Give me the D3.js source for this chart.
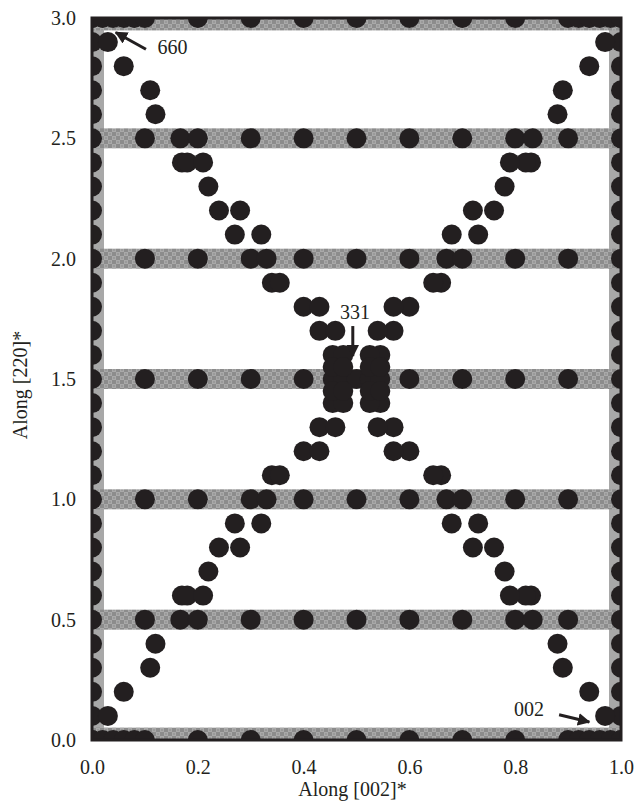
<!DOCTYPE html>
<html>
<head>
<meta charset="utf-8">
<script src="https://cdn.jsdelivr.net/npm/d3@7"></script>
<style>
  html, body { margin: 0; padding: 0; background: #fff; }
  svg { display: block; }
</style>
</head>
<body>
<svg id="chart" width="634" height="812"></svg>
<script>
// ---------- data ----------
const xTicks = [0.0, 0.2, 0.4, 0.6, 0.8, 1.0];
const yTicks = [0.0, 0.5, 1.0, 1.5, 2.0, 2.5, 3.0];
const bandYs = [0.01, 0.5, 1.0, 1.5, 2.0, 2.5, 2.99];   // horizontal checkered bands
const bandXs = [0, 1];                                   // vertical grey bands

// points along the vertical edges (x = 0 and x = 1)
const edgeYs = [0.0, 0.1, 0.2, 0.3, 0.4, 0.5, 0.6, 0.7, 0.8, 0.9, 1.0,
                1.1, 1.2, 1.3, 1.4, 1.5, 1.6, 1.7, 1.8, 1.9, 2.0,
                2.1, 2.2, 2.3, 2.4, 2.5, 2.6, 2.7, 2.8, 2.9, 3.0];
// points along the horizontal edges (y = 0 and y = 3)
const rimXs = [0, 0.02, 0.04, 0.06, 0.08, 0.1, 0.2, 0.3, 0.4, 0.5, 0.6, 0.7, 0.8,
               0.9, 0.92, 0.94, 0.96, 0.98, 1.0];
// points on inner bands
const band05Xs = [0.1, 0.167, 0.2, 0.3, 0.4, 0.5, 0.6, 0.7, 0.8, 0.833, 0.9];
const band10Xs = [0.1, 0.2, 0.3, 0.33, 0.4, 0.5, 0.6, 0.67, 0.7, 0.8, 0.9];
const band15Xs = [0.1, 0.2, 0.3, 0.4, 0.455, 0.475, 0.5, 0.525, 0.545, 0.6, 0.7, 0.8, 0.9];
const band20Xs = [0.1, 0.2, 0.3, 0.33, 0.4, 0.5, 0.6, 0.67, 0.7, 0.8, 0.9];
const band25Xs = [0.1, 0.167, 0.2, 0.3, 0.4, 0.5, 0.6, 0.7, 0.8, 0.833, 0.9];

// diagonal (X-shaped) points [x, y]
const diagTopLeft = [[0.03,2.9],[0.06,2.8],[0.11,2.7],[0.12,2.6],[0.17,2.4],[0.18,2.4],[0.21,2.4],
  [0.22,2.3],[0.24,2.2],[0.28,2.2],[0.27,2.1],[0.32,2.1],[0.34,1.9],[0.355,1.9],[0.40,1.8],[0.43,1.8],
  [0.43,1.7],[0.46,1.7],[0.455,1.6],[0.475,1.6]];
const diagTopRight = [[0.97,2.9],[0.94,2.8],[0.89,2.7],[0.88,2.6],[0.83,2.4],[0.82,2.4],[0.79,2.4],
  [0.78,2.3],[0.76,2.2],[0.72,2.2],[0.73,2.1],[0.68,2.1],[0.66,1.9],[0.645,1.9],[0.60,1.8],[0.57,1.8],
  [0.57,1.7],[0.54,1.7],[0.545,1.6],[0.525,1.6]];
const diagBottomLeft = [[0.03,0.1],[0.06,0.2],[0.11,0.3],[0.12,0.4],[0.17,0.6],[0.18,0.6],[0.21,0.6],
  [0.22,0.7],[0.24,0.8],[0.28,0.8],[0.27,0.9],[0.32,0.9],[0.34,1.1],[0.355,1.1],[0.40,1.2],[0.43,1.2],
  [0.43,1.3],[0.46,1.3],[0.455,1.4],[0.475,1.4]];
const diagBottomRight = [[0.97,0.1],[0.94,0.2],[0.89,0.3],[0.88,0.4],[0.83,0.6],[0.82,0.6],[0.79,0.6],
  [0.78,0.7],[0.76,0.8],[0.72,0.8],[0.73,0.9],[0.68,0.9],[0.66,1.1],[0.645,1.1],[0.60,1.2],[0.57,1.2],
  [0.57,1.3],[0.54,1.3],[0.545,1.4],[0.525,1.4]];
// dense cluster forming the "H" around 331
const centerCluster = [[0.455,1.55],[0.475,1.55],[0.525,1.55],[0.545,1.55],
  [0.455,1.45],[0.475,1.45],[0.525,1.45],[0.545,1.45]];

// annotations: label, label position, arrow start, arrow tip (data units)
const annotations = [
  { text: "660", lx: 0.152, ly: 2.88, from: [0.102, 2.87], to: [0.045, 2.94] },
  { text: "331", lx: 0.497, ly: 1.78, from: [0.493, 1.72], to: [0.493, 1.595] },
  { text: "002", lx: 0.826, ly: 0.13, from: [0.883, 0.105], to: [0.94, 0.075] }
];

// ---------- build point table ----------
const points = [];
edgeYs.forEach(v => { points.push([0, v]); points.push([1, v]); });
rimXs.forEach(v => { points.push([v, 0]); points.push([v, 3]); });
band05Xs.forEach(v => points.push([v, 0.5]));
band10Xs.forEach(v => points.push([v, 1.0]));
band15Xs.forEach(v => points.push([v, 1.5]));
band20Xs.forEach(v => points.push([v, 2.0]));
band25Xs.forEach(v => points.push([v, 2.5]));
[diagTopLeft, diagTopRight, diagBottomLeft, diagBottomRight, centerCluster]
  .forEach(a => a.forEach(p => points.push(p)));

// ---------- drawing ----------
const W = 634, H = 812;
const margin = { left: 92, right: 13, top: 18, bottom: 72 };
const svg = d3.select("#chart");
const x = d3.scaleLinear().domain([0, 1]).range([margin.left, W - margin.right]);
const y = d3.scaleLinear().domain([0, 3]).range([H - margin.bottom, margin.top]);
const ink = "#231f20";
const serif = "'Liberation Serif', 'Times New Roman', serif";

const defs = svg.append("defs");
defs.append("clipPath").attr("id", "plotclip")
  .append("rect")
  .attr("x", x(0)).attr("y", y(3))
  .attr("width", x(1) - x(0)).attr("height", y(0) - y(3));

const pat = defs.append("pattern").attr("id", "checker")
  .attr("patternUnits", "userSpaceOnUse").attr("width", 8).attr("height", 8);
pat.append("rect").attr("width", 8).attr("height", 8).attr("fill", "#8c8c8c");
pat.append("rect").attr("x", 0).attr("y", 0).attr("width", 4).attr("height", 4).attr("fill", "#a9a9a9");
pat.append("rect").attr("x", 4).attr("y", 4).attr("width", 4).attr("height", 4).attr("fill", "#a9a9a9");
pat.append("rect").attr("x", 1).attr("y", 1).attr("width", 2).attr("height", 2).attr("fill", "#9a9a9a");
pat.append("rect").attr("x", 5).attr("y", 5).attr("width", 2).attr("height", 2).attr("fill", "#9a9a9a");

const mk = defs.append("marker").attr("id", "arrow")
  .attr("viewBox", "0 0 10 10").attr("refX", 9).attr("refY", 5)
  .attr("markerWidth", 4.2).attr("markerHeight", 4.2)
  .attr("markerUnits", "strokeWidth").attr("orient", "auto");
mk.append("path").attr("d", "M0,0 L10,5 L0,10 Z").attr("fill", ink);

const plot = svg.append("g").attr("clip-path", "url(#plotclip)");

// vertical grey bands
plot.selectAll("rect.vband").data(bandXs).enter().append("rect")
  .attr("class", "vband")
  .attr("x", d => x(d) - 12).attr("width", 24)
  .attr("y", y(3)).attr("height", y(0) - y(3))
  .attr("fill", "#a8a8a8");

// horizontal checkered bands
plot.selectAll("rect.hband").data(bandYs).enter().append("rect")
  .attr("class", "hband")
  .attr("x", x(0)).attr("width", x(1) - x(0))
  .attr("y", d => y(d) - 10).attr("height", 20)
  .attr("fill", "url(#checker)");

// points
plot.selectAll("circle.pt").data(points).enter().append("circle")
  .attr("class", "pt")
  .attr("cx", d => x(d[0])).attr("cy", d => y(d[1]))
  .attr("r", 10).attr("fill", ink);

// frame
svg.append("rect")
  .attr("x", x(0)).attr("y", y(3))
  .attr("width", x(1) - x(0)).attr("height", y(0) - y(3))
  .attr("fill", "none").attr("stroke", ink).attr("stroke-width", 3);

// axes
const xAxis = d3.axisBottom(x).tickValues(xTicks).tickFormat(d3.format(".1f"))
  .tickSize(0).tickPadding(20);
const gx = svg.append("g").attr("transform", `translate(0,${y(0)})`).call(xAxis);
gx.select(".domain").remove();
gx.selectAll("text").attr("font-family", serif).attr("font-size", 20).attr("fill", ink);

const yAxis = d3.axisLeft(y).tickValues(yTicks).tickFormat(d3.format(".1f"))
  .tickSize(0).tickPadding(16);
const gy = svg.append("g").attr("transform", `translate(${x(0)},0)`).call(yAxis);
gy.select(".domain").remove();
gy.selectAll("text").attr("font-family", serif).attr("font-size", 20).attr("fill", ink);

// axis titles
svg.append("text")
  .attr("x", (x(0) + x(1)) / 2 - 4).attr("y", 796)
  .attr("text-anchor", "middle")
  .attr("font-family", serif).attr("font-size", 20).attr("fill", ink)
  .text("Along [002]*");
svg.append("text")
  .attr("transform", `translate(27,${(y(0) + y(3)) / 2 + 6}) rotate(-90)`)
  .attr("text-anchor", "middle")
  .attr("font-family", serif).attr("font-size", 20).attr("fill", ink)
  .text("Along [220]*");

// annotations
const ann = svg.append("g");
annotations.forEach(a => {
  ann.append("text")
    .attr("x", x(a.lx)).attr("y", y(a.ly))
    .attr("dy", "0.35em")
    .attr("text-anchor", "middle")
    .attr("font-family", serif).attr("font-size", 20).attr("fill", ink)
    .text(a.text);
  ann.append("line")
    .attr("x1", x(a.from[0])).attr("y1", y(a.from[1]))
    .attr("x2", x(a.to[0])).attr("y2", y(a.to[1]))
    .attr("stroke", ink).attr("stroke-width", 3)
    .attr("marker-end", "url(#arrow)");
});
</script>
</body>
</html>
